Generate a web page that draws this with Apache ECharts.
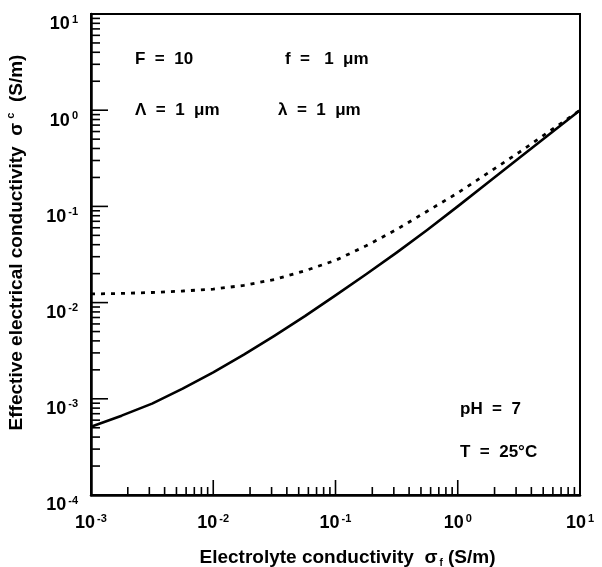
<!DOCTYPE html>
<html>
<head>
<meta charset="utf-8">
<script src="https://cdn.jsdelivr.net/npm/echarts@6/dist/echarts.min.js"></script>
<style>
  html, body { margin: 0; padding: 0; background: #fff; }
  #chart { width: 602px; height: 567px; }
</style>
</head>
<body>
<div id="chart"></div>
<script>
// Electrolyte conductivity sigma_f (S/m)
const electrolyteSigma = [0.001, 0.00178, 0.00316, 0.00562, 0.01, 0.0178, 0.0316, 0.0562,
  0.1, 0.178, 0.316, 0.562, 1, 1.78, 3.16, 5.62, 10];
// Effective electrical conductivity sigma_c (S/m), solid curve
const effectiveSolid = [0.000513, 0.000668, 0.000891, 0.001274, 0.001884, 0.00288, 0.00452, 0.00724,
  0.0119, 0.0197, 0.0331, 0.0569, 0.1, 0.178, 0.316, 0.562, 1.0];
// Effective electrical conductivity sigma_c (S/m), dashed curve
const effectiveDashed = [0.0123, 0.01245, 0.01274, 0.0132, 0.0138, 0.0151, 0.0174, 0.0214,
  0.0275, 0.0389, 0.0575, 0.0891, 0.138, 0.224, 0.363, 0.603, 1.0];

// Axis decades
const xDecades = [0.001, 0.01, 0.1, 1, 10];
const yDecades = [0.0001, 0.001, 0.01, 0.1, 1, 10];
const minorMultipliers = [2, 3, 4, 5, 6, 7, 8, 9];

const X_MIN = 0.001, X_MAX = 10, Y_MIN = 0.0001, Y_MAX = 10;
const FONT = '"Liberation Sans", Arial, Helvetica, sans-serif';

function pairs(xs, ys) { return xs.map((x, i) => [x, ys[i]]); }

// tick marks: [value, majorFlag]
function tickList(decades) {
  const out = [];
  decades.forEach((d, i) => {
    out.push([d, 1]);
    if (i < decades.length - 1) minorMultipliers.forEach(m => out.push([+(d * m).toPrecision(3), 0]));
  });
  return out;
}
const xTicks = tickList(xDecades);
const yTicks = tickList(yDecades);

function powLabel(v) {
  const e = Math.round(Math.log10(v));
  return '{b|10}{e|' + e + '}';
}

const labelRich = {
  b: { fontFamily: FONT, fontWeight: 'bold', fontSize: 18, color: '#000' },
  e: { fontFamily: FONT, fontWeight: 'bold', fontSize: 11, color: '#000', padding: [0, 0, 10, 2] }
};

const titleRich = {
  t: { fontFamily: FONT, fontWeight: 'bold', fontSize: 19, color: '#000' },
  s: { fontFamily: FONT, fontWeight: 'bold', fontSize: 19, color: '#000' },
  sub: { fontFamily: FONT, fontWeight: 'bold', fontSize: 10, color: '#000', padding: [10, 0, 0, 2] },
  sup: { fontFamily: FONT, fontWeight: 'bold', fontSize: 11, color: '#000', padding: [0, 0, 12, 4] }
};

const chart = echarts.init(document.getElementById('chart'));

chart.setOption({
  animation: false,
  backgroundColor: '#fff',
  grid: {
    left: 91, right: 22, top: 14, bottom: 72,
    containLabel: false, outerBoundsMode: 'none',
    show: true, borderColor: '#000', borderWidth: 2, backgroundColor: 'transparent'
  },
  xAxis: {
    type: 'log', logBase: 10, min: X_MIN, max: X_MAX,
    axisLine: { show: true, lineStyle: { color: '#000', width: 2.5 } },
    axisTick: { show: false },
    minorTick: { show: false },
    splitLine: { show: false },
    axisLabel: { margin: 18, formatter: powLabel, rich: labelRich },
    name: '{t|Electrolyte conductivity  }{s|σ}{sub|f}{t| (S/m)}',
    nameLocation: 'middle', nameGap: 53,
    nameTextStyle: { padding: [0, 0, 0, 24], rich: titleRich }
  },
  yAxis: {
    type: 'log', logBase: 10, min: Y_MIN, max: Y_MAX,
    axisLine: { show: true, lineStyle: { color: '#000', width: 2.5 } },
    axisTick: { show: false },
    minorTick: { show: false },
    splitLine: { show: false },
    axisLabel: { margin: 13, verticalAlign: 'top', formatter: powLabel, rich: labelRich },
    name: '{t|Effective electrical conductivity  }{s|σ}{sup|c}{t|  (S/m)}',
    nameLocation: 'middle', nameGap: 63, nameRotate: 90,
    nameTextStyle: { padding: [0, 0, 0, 24], rich: titleRich }
  },
  series: [
    {
      type: 'line', name: 'solid',
      data: pairs(electrolyteSigma, effectiveSolid),
      smooth: false, symbol: 'none',
      lineStyle: { color: '#000', width: 2.6, join: 'round' }
    },
    {
      type: 'line', name: 'dashed',
      data: pairs(electrolyteSigma, effectiveDashed),
      smooth: false, symbol: 'none',
      lineStyle: { color: '#000', width: 2.8, type: [4, 6] }
    },
    {
      // tick marks along the bottom axis, pointing inward
      type: 'custom', silent: true, clip: false,
      data: xTicks.map(t => [t[0], Y_MIN, t[1]]),
      encode: { x: 0, y: 1 },
      renderItem(params, api) {
        const p = api.coord([api.value(0), Y_MIN]);
        const len = api.value(2) ? 15 : 8;
        return { type: 'line', shape: { x1: p[0], y1: p[1], x2: p[0], y2: p[1] - len },
                 style: { stroke: '#000', lineWidth: 1.6 } };
      }
    },
    {
      // tick marks along the left axis, pointing inward
      type: 'custom', silent: true, clip: false,
      data: yTicks.map(t => [X_MIN, t[0], t[1]]),
      encode: { x: 0, y: 1 },
      renderItem(params, api) {
        const p = api.coord([X_MIN, api.value(1)]);
        const len = api.value(2) ? 17 : 9;
        return { type: 'line', shape: { x1: p[0], y1: p[1], x2: p[0] + len, y2: p[1] },
                 style: { stroke: '#000', lineWidth: 1.6 } };
      }
    }
  ],
  graphic: [
    { type: 'text', left: 135, top: 51, style: { text: 'F  =  10', font: 'bold 17px ' + FONT, fill: '#000' } },
    { type: 'text', left: 285, top: 51, style: { text: 'f  =   1  μm', font: 'bold 17px ' + FONT, fill: '#000' } },
    { type: 'text', left: 135, top: 102, style: { text: 'Λ  =  1  μm', font: 'bold 17px ' + FONT, fill: '#000' } },
    { type: 'text', left: 278, top: 102, style: { text: 'λ  =  1  μm', font: 'bold 17px ' + FONT, fill: '#000' } },
    { type: 'text', left: 460, top: 401, style: { text: 'pH  =  7', font: 'bold 17px ' + FONT, fill: '#000' } },
    { type: 'text', left: 460, top: 444, style: { text: 'T  =  25°C', font: 'bold 17px ' + FONT, fill: '#000' } }
  ]
});
</script>
</body>
</html>
